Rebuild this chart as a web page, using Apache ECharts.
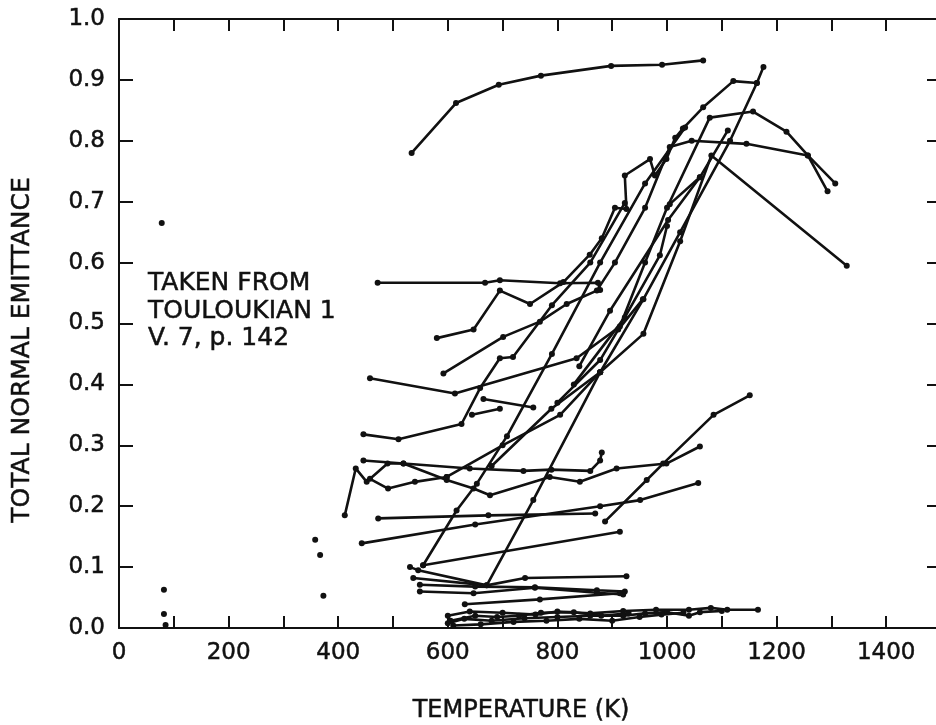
<!DOCTYPE html>
<html>
<head>
<meta charset="UTF-8">
<title>Total normal emittance</title>
<script src="https://cdn.jsdelivr.net/npm/echarts@6.0.0/dist/echarts.min.js"></script>
</head>
<body style="margin:0;background:#fff;">
<div id="main" style="width:936px;height:725px;"></div>
<script type="text/javascript">
// tick labels
var xTicks = [0, 200, 400, 600, 800, 1000, 1200, 1400];
var yTicks = [0, 0.1, 0.2, 0.3, 0.4, 0.5, 0.6, 0.7, 0.8, 0.9, 1.0];

// each curve: [temperature K, total normal emittance]
var topCurve = [[534,0.78],[615,0.862],[693,0.892],[770,0.907],[898,0.923],[991,0.925],[1066,0.932]];
var flat567 = [[472,0.567],[668,0.567],[695,0.571],[805,0.566],[874,0.567],[878,0.555]];
var jagged = [[580,0.476],[647,0.49],[695,0.554],[750,0.532],[811,0.568],[859,0.613],[881,0.64],[905,0.69],[926,0.688],[923,0.743],[969,0.77],[978,0.743],[999,0.77],[1015,0.805],[1029,0.82],[1066,0.855],[1121,0.898],[1164,0.895],[1176,0.921]];
var rise592 = [[592,0.418],[701,0.478],[768,0.503],[817,0.532],[872,0.554],[905,0.6],[960,0.69],[1005,0.79],[1045,0.80],[1145,0.795],[1257,0.776],[1293,0.717]];
var line458 = [[458,0.41],[613,0.385],[835,0.443],[914,0.495],[960,0.6],[1000,0.69],[1078,0.838],[1157,0.848],[1218,0.815],[1257,0.776],[1307,0.73]];
var line446 = [[446,0.318],[510,0.31],[625,0.335],[659,0.394],[695,0.443],[719,0.445],[790,0.53],[860,0.6],[923,0.698]];
var short665 = [[665,0.376],[756,0.362]];
var short644 = [[644,0.35],[695,0.36]];
var steepA = [[555,0.103],[616,0.193],[653,0.237],[708,0.315],[790,0.45],[878,0.6],[960,0.73],[1033,0.822]];
var steepB = [[531,0.1],[546,0.095],[671,0.07],[756,0.21],[878,0.42],[957,0.54],[1024,0.65],[1115,0.8],[1164,0.895]];
var fall1325 = [[878,0.42],[957,0.483],[1024,0.635],[1081,0.776],[1328,0.595]];
var rise840 = [[840,0.43],[896,0.521],[1002,0.67],[1060,0.74],[1111,0.817]];
var short1005 = [[1005,0.696],[1060,0.74]];
var rise800 = [[800,0.37],[878,0.44],[911,0.49],[956,0.54]];
var rise830 = [[830,0.4],[923,0.51],[987,0.612],[1000,0.66]];
var fan680 = [[680,0.266],[789,0.36],[878,0.42]];
var fan598 = [[598,0.248],[700,0.3],[805,0.35],[878,0.42]];
var zig412 = [[412,0.185],[432,0.262],[452,0.24],[490,0.27],[519,0.27],[598,0.243],[647,0.229],[677,0.218],[786,0.248],[841,0.24],[908,0.262],[999,0.27],[1060,0.298]];
var flat275 = [[446,0.275],[519,0.27],[640,0.262],[738,0.258],[789,0.26],[860,0.258],[878,0.275],[881,0.288]];
var short458 = [[458,0.245],[491,0.229],[540,0.24],[598,0.248]];
var flat18 = [[473,0.18],[674,0.185],[869,0.188]];
var line14 = [[443,0.139],[650,0.17],[878,0.2],[951,0.21],[1057,0.238]];
var rise887 = [[887,0.175],[963,0.243],[993,0.27],[1085,0.35],[1151,0.382]];
var line555 = [[555,0.103],[914,0.158]];
var low082 = [[537,0.082],[671,0.07],[741,0.082],[926,0.085]];
var low070 = [[549,0.071],[650,0.068],[759,0.067],[872,0.062],[923,0.06]];
var low060 = [[549,0.06],[647,0.057],[759,0.066],[872,0.058],[920,0.055]];
var low040 = [[631,0.039],[768,0.047],[914,0.057]];
var bot1 = [[600,0.02],[640,0.027],[700,0.025],[760,0.022],[800,0.027],[860,0.024],[920,0.028],[980,0.03],[1040,0.03],[1080,0.033],[1110,0.03],[1166,0.03]];
var bot2 = [[600,0.008],[630,0.015],[680,0.012],[740,0.016],[800,0.018],[860,0.02],[920,0.02],[960,0.024],[1000,0.026],[1040,0.02],[1060,0.026],[1100,0.028]];
var bot3 = [[610,0.004],[660,0.006],[720,0.01],[780,0.012],[840,0.015],[900,0.012],[950,0.018],[990,0.022],[1030,0.025]];
var bot4 = [[605,0.012],[650,0.02],[690,0.018],[730,0.02],[770,0.025],[830,0.026],[880,0.02],[930,0.024]];
var loosePoints = [[78,0.665],[82,0.063],[82,0.023],[85,0.005],[358,0.145],[367,0.12],[373,0.053]];

var curves = [topCurve, flat567, jagged, rise592, line458, line446, short665, short644,
    steepA, steepB, fall1325, rise840, short1005, rise800, rise830, fan680, fan598,
    zig412, flat275, short458, flat18, line14, rise887, line555,
    low082, low070, low060, low040, bot1, bot2, bot3, bot4];

var myChart = echarts.init(document.getElementById('main'));

var font = '"DejaVu Sans", sans-serif';
var ink = '#111';

var series = curves.map(function(c) {
    return {
        type: 'line',
        data: c,
        symbol: 'circle',
        symbolSize: 6,
        showSymbol: true,
        lineStyle: { color: ink, width: 2.6 },
        itemStyle: { color: ink },
        silent: true
    };
});
series.push({
    type: 'scatter',
    data: loosePoints,
    symbolSize: 6,
    itemStyle: { color: ink, opacity: 1 },
    silent: true
});

var labelStyle = { fontFamily: font, fontSize: 23, color: ink, textBorderColor: ink, textBorderWidth: 0.5 };
function axisLine() {
    return { show: true, onZero: false, lineStyle: { color: ink, width: 2 } };
}
function ticks(len) {
    return { show: true, inside: true, length: len, lineStyle: { color: ink, width: 2 } };
}

option = {
    animation: false,
    grid: { left: 119, right: -5, top: 19, bottom: 97, outerBoundsMode: 'none' },
    xAxis: [{
        type: 'value',
        min: 0, max: 1500, interval: 100,
        name: 'TEMPERATURE (K)',
        nameLocation: 'middle',
        nameGap: 71,
        nameTextStyle: { fontFamily: font, fontSize: 24, color: ink, textBorderColor: ink, textBorderWidth: 0.5, padding: [0, 18, 0, 0] },
        axisLine: axisLine(),
        axisTick: ticks(12),
        axisLabel: Object.assign({
            show: true,
            margin: 14,
            formatter: function(v) { return xTicks.indexOf(v) >= 0 ? String(v) : ''; }
        }, labelStyle),
        splitLine: { show: false }
    }, {
        type: 'value',
        position: 'top',
        min: 0, max: 1500, interval: 100,
        axisLine: axisLine(),
        axisTick: ticks(12),
        axisLabel: { show: false },
        splitLine: { show: false }
    }],
    yAxis: [{
        type: 'value',
        min: 0, max: 1, interval: 0.1,
        axisLine: axisLine(),
        axisTick: ticks(14),
        axisLabel: Object.assign({
            show: true,
            margin: 14,
            formatter: function(v) {
                for (var i = 0; i < yTicks.length; i++) {
                    if (Math.abs(yTicks[i] - v) < 1e-6) return yTicks[i].toFixed(1);
                }
                return '';
            }
        }, labelStyle),
        splitLine: { show: false }
    }, {
        type: 'value',
        position: 'right',
        min: 0, max: 1, interval: 0.1,
        axisLine: axisLine(),
        axisTick: ticks(14),
        axisLabel: { show: false },
        splitLine: { show: false }
    }],
    graphic: [{
        type: 'text',
        x: 22, y: 350,
        rotation: Math.PI / 2,
        style: {
            text: 'TOTAL NORMAL EMITTANCE',
            font: '25px "DejaVu Sans", sans-serif',
            fill: ink,
            stroke: ink,
            lineWidth: 0.5,
            textAlign: 'center',
            textVerticalAlign: 'middle'
        }
    }, {
        type: 'text',
        x: 148, y: 270,
        style: {
            text: 'TAKEN FROM\nTOULOUKIAN 1\nV. 7, p. 142',
            font: '25px "DejaVu Sans", sans-serif',
            lineHeight: 27.5,
            fill: ink,
            stroke: ink,
            lineWidth: 0.5
        }
    }],
    series: series
};

myChart.setOption(option);
</script>
</body>
</html>
